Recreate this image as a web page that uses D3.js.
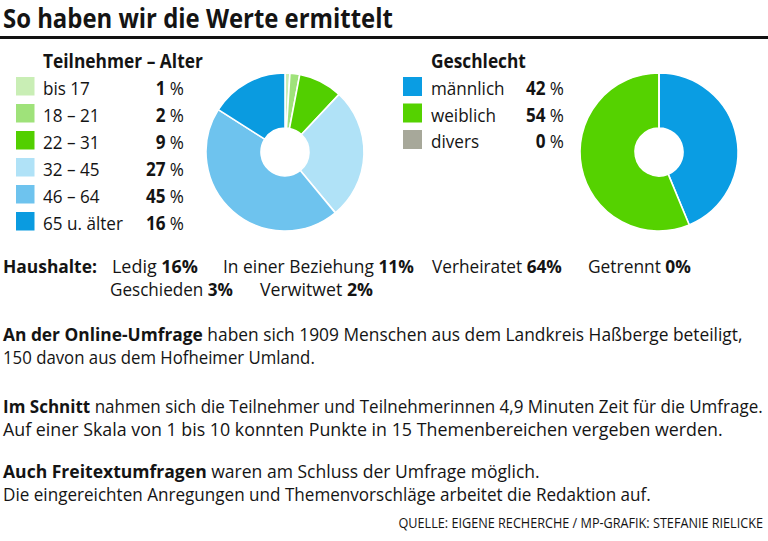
<!DOCTYPE html>
<html><head><meta charset="utf-8">
<script src="https://cdn.jsdelivr.net/npm/d3@7"></script>
<style>
body{margin:0;background:#fff}
svg{display:block}
text{font-family:"Open Sans","Noto Sans",sans-serif;fill:#141414}
</style>
</head><body>
<svg id="c" width="768" height="541"></svg>
<script>
// ---------- DATA ----------
const title = "So haben wir die Werte ermittelt";
const ageTitle = "Teilnehmer – Alter";
const ageCategories = ["bis 17", "18 – 21", "22 – 31", "32 – 45", "46 – 64", "65 u. älter"];
const ageValues = [1, 2, 9, 27, 45, 16];
const ageColors = ["#c9eeb5", "#9fe27a", "#52cf00", "#b0e2f7", "#6ec3ee", "#0a9be0"];

const genderTitle = "Geschlecht";
const genderCategories = ["männlich", "weiblich", "divers"];
const genderValues = [42, 54, 0];
const genderColors = ["#0a9de3", "#55d200", "#a7a89a"];

const householdTitle = "Haushalte:";
const householdCategories = ["Ledig", "In einer Beziehung", "Verheiratet", "Getrennt", "Geschieden", "Verwitwet"];
const householdValues = [16, 11, 64, 0, 3, 2];

const paragraphs = [
  [[["An der Online-Umfrage", true], [" haben sich 1909 Menschen aus dem Landkreis Haßberge beteiligt,", false]],
   [["150 davon aus dem Hofheimer Umland.", false]]],
  [[["Im Schnitt", true], [" nahmen sich die Teilnehmer und Teilnehmerinnen 4,9 Minuten Zeit für die Umfrage.", false]],
   [["Auf einer Skala von 1 bis 10 konnten Punkte in 15 Themenbereichen vergeben werden.", false]]],
  [[["Auch Freitextumfragen", true], [" waren am Schluss der Umfrage möglich.", false]],
   [["Die eingereichten Anregungen und Themenvorschläge arbeitet die Redaktion auf.", false]]]
];
const source = "QUELLE: EIGENE RECHERCHE / MP-GRAFIK: STEFANIE RIELICKE";

// ---------- DRAWING ----------
const svg = d3.select("#c");

function txt(parent, x, y, parts, o = {}) {
  const t = parent.append("text")
    .attr("font-size", o.size || 18)
    .attr("text-anchor", o.anchor || "start");
  parts.forEach(p => t.append("tspan").attr("font-weight", p[1] ? 700 : 400).text(p[0]));
  const w = t.node().getComputedTextLength();
  const s = o.width ? o.width / w : (o.sx || 1);
  t.attr("transform", `translate(${x},${y}) scale(${s},1)`);
  return t;
}

// title + rule
txt(svg, 3, 27.5, [[title, true]], {size: 26.5, width: 390});
svg.append("line").attr("x1", 0).attr("x2", 768).attr("y1", 37.5).attr("y2", 37.5)
  .attr("stroke", "#111").attr("stroke-width", 3);

// donut helper
function donut(cx, cy, values, colors) {
  const pie = d3.pie().sort(null).startAngle(0).endAngle(2 * Math.PI);
  const arc = d3.arc().innerRadius(24).outerRadius(79);
  svg.append("g").attr("transform", `translate(${cx},${cy})`)
    .selectAll("path").data(pie(values)).join("path")
    .attr("d", arc)
    .attr("fill", (d, i) => colors[i])
    .attr("stroke", "#fff").attr("stroke-width", 1.6).attr("stroke-linejoin", "round");
}

// legend helper
function legend(x0, titleX, titleW, valueRight, rowY, cats, vals, colors, step, sw) {
  txt(svg, titleX, 68, [[cats.title, true]], {size: 19, width: titleW});
  cats.items.forEach((c, i) => {
    const y = rowY + i * step;
    svg.append("rect").attr("x", x0).attr("y", y - 18).attr("width", sw).attr("height", sw)
      .attr("fill", colors[i]);
    txt(svg, titleX, y, [[c, false]], {size: 19, sx: 0.9});
    txt(svg, valueRight, y, [[String(vals[i]), true], [" %", false]], {size: 19, sx: 0.9, anchor: "end"});
  });
}

legend(16, 43, 160, 184, 95, {title: ageTitle, items: ageCategories}, ageValues, ageColors, 27, 18.5);
donut(285, 152, ageValues, ageColors);

legend(403, 431, 95, 564, 95, {title: genderTitle, items: genderCategories}, genderValues, genderColors, 26.5, 19);
donut(659, 152, genderValues, genderColors);

// households
txt(svg, 3, 273, [[householdTitle, true]], {size: 18, width: 94});
const hhX = [112, 223, 432, 588, 110, 260];
const hhRow = [273, 273, 273, 273, 296, 296];
const hhW = [86, 191, 130, 103, 123, 113];
householdCategories.forEach((c, i) => {
  txt(svg, hhX[i], hhRow[i], [[c + " ", false], [householdValues[i] + "%", true]], {size: 18, width: hhW[i]});
});

// paragraphs
const paraY = [[341, 364], [413, 436], [478, 501]];
const paraW = [[740, 312], [760, 720], [537, 648]];
paragraphs.forEach((p, i) => {
  p.forEach((line, j) => txt(svg, 3, paraY[i][j], line, {size: 18, width: paraW[i][j]}));
});

// source
txt(svg, 763, 528, [[source, false]], {size: 14, width: 365, anchor: "end"});
</script>
</body></html>
